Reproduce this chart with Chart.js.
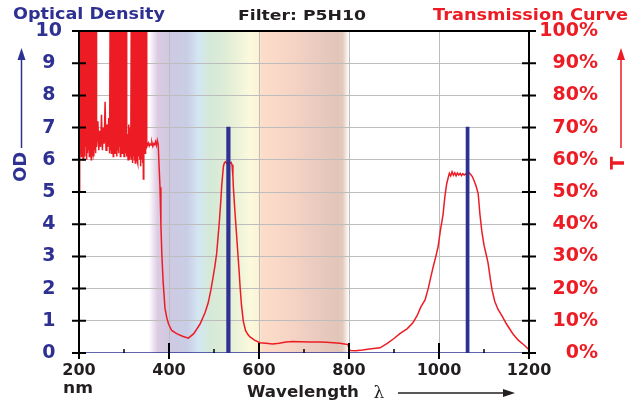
<!DOCTYPE html>
<html>
<head>
<meta charset="utf-8">
<script src="https://cdn.jsdelivr.net/npm/chart.js@4.4.0/dist/chart.umd.min.js"></script>
<style>
body { margin: 0; background: #fff; }
canvas { display: block; }
</style>
</head>
<body>
<canvas id="myChart" width="642" height="402"></canvas>
<script>
// transmission curve, wavelength (nm) and T (%)
var transWl = [
  200, 201, 202, 203, 204, 205, 206, 207, 208, 209, 210, 211, 212, 213, 214, 215, 216, 217, 218, 219,
  220, 221, 222, 223, 224, 225, 226, 227, 228, 229, 230, 231, 232, 233, 234, 235, 236, 237, 238, 239,
  240, 242, 244, 246, 248, 250, 252, 254, 256, 258, 260, 262, 264, 266, 268,
  269, 270, 271, 272, 273, 274, 275, 276, 277, 278, 279, 280, 281, 282, 283, 284, 285, 286, 287, 288,
  289, 290, 291, 292, 293, 294, 295, 296, 297, 298, 299, 300, 301, 302, 303, 304, 305, 306,
  307, 308, 309, 310, 311, 312, 313, 314, 315,
  316, 317, 318, 319, 320, 321, 322, 323, 324, 325, 326, 327, 328, 329, 330, 331, 332, 333, 334, 335,
  336, 337, 338, 339, 340, 341, 342, 343, 344, 345, 346, 347, 348, 349, 350, 351,
  352, 354, 356, 358, 360, 362, 364, 366, 368, 370, 372, 374, 376, 378, 380, 382, 384, 387, 391, 395,
  399, 406, 417, 430, 443, 455, 469, 480, 487, 493, 498, 502, 506, 509, 512, 515, 517, 519, 521, 523,
  526, 529, 532, 535, 538, 540, 542, 543, 546, 548, 551, 553, 556, 558, 561, 565, 570, 575, 580, 590,
  602, 615, 630, 645, 660, 675, 690, 713, 735, 750, 765, 780, 790, 798, 800, 803, 815, 830, 850, 869,
  885, 900, 913, 929, 942, 951, 960, 969, 976, 982, 987, 993, 998, 1003, 1009, 1013, 1017, 1020, 1023, 1026,
  1029, 1032, 1035, 1038, 1041, 1044, 1047, 1050, 1053, 1056, 1059, 1062, 1066, 1070, 1074, 1078, 1082, 1087, 1091, 1095,
  1100, 1105, 1109, 1114, 1118, 1124, 1131, 1140, 1150, 1164, 1176, 1189, 1200
];
var transPct = [
  65, 50, 100, 62, 100, 61, 100, 63, 100, 60, 100, 62, 100, 61, 100, 64, 100, 60, 100, 62,
  100, 63, 100, 61, 100, 62, 100, 60, 100, 63, 100, 62, 100, 61, 100, 63, 100, 62, 100, 64,
  66, 72, 63, 69, 64, 74, 63, 70, 65, 78, 63, 71, 64, 73, 62,
  100, 63, 100, 62, 100, 64, 100, 61, 100, 63, 100, 62, 100, 64, 100, 61, 100, 63, 100, 62,
  100, 64, 100, 61, 100, 63, 100, 62, 100, 64, 100, 61, 100, 63, 100, 62, 100, 61,
  62, 68, 60, 71, 61, 66, 60, 70, 61,
  100, 60, 100, 59, 100, 61, 100, 60, 100, 59, 100, 61, 100, 60, 100, 59, 100, 61, 100, 60,
  100, 58, 100, 60, 100, 59, 100, 54, 100, 63, 100, 62, 100, 64, 100, 64,
  64.5, 65.2, 64.3, 65.0, 64.6, 65.4, 64.2, 65.0, 64.7, 65.6, 64.5, 66.0, 64.8, 58, 51.5, 40, 31, 22, 14, 11,
  9, 7, 6, 5.2, 4.6, 6, 9, 12.5, 15.5, 19.5, 23.6, 27, 31, 36, 41, 47, 51.6, 55, 58, 59,
  59.4, 58.8, 59.3, 58.9, 59.2, 58.5, 55, 51.6, 45, 41, 35, 31, 25, 20.5, 15, 10, 7, 5.8, 5, 4,
  3.2, 3.0, 2.8, 3.0, 3.4, 3.6, 3.5, 3.4, 3.4, 3.3, 3.2, 3.0, 2.8, 2.6, 1.2, 0.8, 0.7, 0.9, 1.3, 1.6,
  3.0, 4.5, 6.0, 7.5, 9.4, 11.5, 14.4, 16.5, 20, 23.7, 26.7, 30, 33, 38, 43, 48.5, 52.5, 54.2, 55.8, 55.0,
  56.3, 55.2, 56.0, 55.0, 55.9, 55.3, 55.8, 55.1, 55.7, 55.3, 55.6, 55.2, 56.1, 55.5, 54.8, 53.5, 52, 49.6, 43, 38,
  33.5, 30.5, 28, 23, 19.5, 16, 13.6, 11.5, 9, 6, 4, 2.5, 1.0
];

// laser lines, optical density
var odWl = [200, 529, 529, 535, 535, 1061, 1061, 1066, 1066, 1200];
var odVals = [0, 0, 7, 7, 0, 0, 7, 7, 0, 0];

var headTexts = ['Optical Density', 'Filter: P5H10', 'Transmission Curve'];

var NAVY = '#2e3192', RED = '#ed1c24', INK = '#231f20', GRID = '#bdbdbd';
var FAM = '"DejaVu Sans", sans-serif';

function pairs(xs, ys) {
  var out = [];
  for (var i = 0; i < xs.length; i++) out.push({x: xs[i], y: ys[i]});
  return out;
}

// text squeezed/stretched to the width it has in the picture
function wideText(ctx, text, x, y, size, color, width) {
  ctx.save();
  ctx.font = 'bold ' + size + 'px ' + FAM;
  var w = ctx.measureText(text).width;
  ctx.translate(x, y);
  ctx.scale(width / w, 1);
  ctx.fillStyle = color;
  ctx.textAlign = 'left';
  ctx.textBaseline = 'alphabetic';
  ctx.fillText(text, 0, 0);
  ctx.restore();
}

function upText(ctx, text, cx, cy, size, color) {
  ctx.save();
  ctx.translate(cx, cy);
  ctx.rotate(-Math.PI / 2);
  ctx.font = 'bold ' + size + 'px ' + FAM;
  ctx.fillStyle = color;
  ctx.textAlign = 'center';
  ctx.textBaseline = 'middle';
  ctx.fillText(text, 0, 0);
  ctx.restore();
}

function arrow(ctx, x0, y0, x1, y1, color) {
  var a = Math.atan2(y1 - y0, x1 - x0), L = 12, H = 4;
  ctx.save();
  ctx.strokeStyle = color; ctx.fillStyle = color; ctx.lineWidth = 1.5;
  ctx.beginPath();
  ctx.moveTo(x0, y0);
  ctx.lineTo(x1 - L * Math.cos(a), y1 - L * Math.sin(a));
  ctx.stroke();
  ctx.beginPath();
  ctx.moveTo(x1, y1);
  ctx.lineTo(x1 - L * Math.cos(a) - H * Math.sin(a), y1 - L * Math.sin(a) + H * Math.cos(a));
  ctx.lineTo(x1 - L * Math.cos(a) + H * Math.sin(a), y1 - L * Math.sin(a) - H * Math.cos(a));
  ctx.closePath();
  ctx.fill();
  ctx.restore();
}

// visible spectrum band behind the grid
var spectrumStops = [
  [355, '#ffffff'], [375, '#dccae2'], [400, '#cfc9e2'], [440, '#c9cde6'], [465, '#d3e6f3'],
  [490, '#d5e9d9'], [520, '#dcecd6'], [555, '#eef3d8'], [580, '#fbf9dc'], [598, '#fbf3d6'],
  [606, '#fcdcc8'], [660, '#f8d6c6'], [720, '#ecccc0'], [775, '#e1c5b8'], [786, '#e3cabe'], [800, '#ffffff']
];

var spectrumPlugin = {
  id: 'spectrum',
  beforeDraw: function(chart) {
    var ctx = chart.ctx, a = chart.chartArea, xs = chart.scales.x;
    var lo = spectrumStops[0][0], hi = spectrumStops[spectrumStops.length - 1][0];
    var x0 = xs.getPixelForValue(lo), x1 = xs.getPixelForValue(hi);
    var g = ctx.createLinearGradient(x0, 0, x1, 0);
    spectrumStops.forEach(function(s) { g.addColorStop((s[0] - lo) / (hi - lo), s[1]); });
    ctx.save();
    ctx.fillStyle = g;
    ctx.fillRect(x0, a.top, x1 - x0, a.bottom - a.top);
    ctx.restore();
  }
};

var framePlugin = {
  id: 'frame',
  afterDraw: function(chart) {
    var ctx = chart.ctx, a = chart.chartArea;
    var xs = chart.scales.x, ys = chart.scales.y, y2 = chart.scales.y2;
    ctx.save();
    ctx.strokeStyle = '#000';
    ctx.lineWidth = 2;
    ctx.beginPath();
    ctx.moveTo(a.left, a.top); ctx.lineTo(a.right, a.top);
    ctx.moveTo(a.left, a.top); ctx.lineTo(a.left, a.bottom + 6);
    ctx.moveTo(a.right, a.top); ctx.lineTo(a.right, a.bottom + 6);
    ys.ticks.forEach(function(t) {
      var p = ys.getPixelForValue(t.value);
      ctx.moveTo(a.left - 7, p); ctx.lineTo(a.left + 7, p);
    });
    y2.ticks.forEach(function(t) {
      var p = y2.getPixelForValue(t.value);
      ctx.moveTo(a.right - 7, p); ctx.lineTo(a.right + 7, p);
    });
    xs.ticks.forEach(function(t) {
      if (t.value % 200 === 0) {
        var p = xs.getPixelForValue(t.value);
        ctx.moveTo(p, a.bottom - 10); ctx.lineTo(p, a.bottom + 6);
      }
    });
    ctx.stroke();
    ctx.lineWidth = 1.5;
    ctx.beginPath();
    xs.ticks.forEach(function(t) {
      if (t.value % 200 !== 0) {
        var p = xs.getPixelForValue(t.value);
        ctx.moveTo(p, a.bottom - 4); ctx.lineTo(p, a.bottom);
      }
    });
    ctx.stroke();
    ctx.restore();

    // headings and axis titles
    wideText(ctx, headTexts[0], 13, 19, 16, NAVY, 152);
    wideText(ctx, headTexts[1], 238, 20, 14, INK, 128);
    wideText(ctx, headTexts[2], 433, 20, 16, RED, 195);
    upText(ctx, 'OD', 21, 167, 18, NAVY);
    arrow(ctx, 21.5, 148, 21.5, 48, NAVY);
    upText(ctx, 'T', 619, 163, 19, RED);
    arrow(ctx, 621, 148, 621, 48, RED);
    wideText(ctx, 'nm', 63, 393, 15, INK, 30);
    wideText(ctx, 'Wavelength', 247, 397, 15, INK, 112);
    ctx.save();
    ctx.font = '17px "DejaVu Serif", serif';
    ctx.fillStyle = INK;
    ctx.textAlign = 'center';
    ctx.fillText('\u03bb', 379, 398);
    ctx.restore();
    arrow(ctx, 398, 393, 515, 393, INK);
  }
};

var ctx = document.getElementById('myChart');
var chart = new Chart(ctx, {
  type: 'line',
  data: {
    datasets: [{
      label: 'Optical Density',
      data: pairs(odWl, odVals),
      yAxisID: 'y',
      borderColor: NAVY,
      backgroundColor: NAVY,
      borderWidth: 1.5,
      fill: 'origin',
      pointRadius: 0,
      tension: 0
    }, {
      label: 'Transmission',
      data: pairs(transWl, transPct),
      yAxisID: 'y2',
      borderColor: RED,
      borderWidth: 1.5,
      fill: false,
      pointRadius: 0,
      tension: 0
    }]
  },
  options: {
    responsive: false,
    animation: false,
    layout: { padding: { top: 31, right: 44, left: 0, bottom: 0 } },
    plugins: { legend: { display: false }, tooltip: { enabled: false } },
    scales: {
      x: {
        type: 'linear', min: 200, max: 1200,
        afterFit: function(s) { s.height = 49; },
        border: { display: false },
        grid: {
          drawTicks: false,
          color: function(c) {
            var v = c.tick ? c.tick.value : 0;
            return (v % 200 === 0 && v > 200 && v < 1200) ? GRID : 'rgba(0,0,0,0)';
          }
        },
        ticks: {
          stepSize: 100, autoSkip: false, maxRotation: 0, padding: 8,
          color: INK, font: { family: FAM, size: 16, weight: 'bold' },
          callback: function(v) { return v % 200 === 0 ? v : ''; }
        }
      },
      y: {
        position: 'left', min: 0, max: 10,
        afterFit: function(s) { s.width = 79; },
        border: { display: false },
        grid: {
          drawTicks: false,
          color: function(c) {
            var v = c.tick ? c.tick.value : 0;
            return (v > 0 && v < 10) ? GRID : 'rgba(0,0,0,0)';
          }
        },
        ticks: {
          stepSize: 1, padding: 17, crossAlign: 'center',
          color: NAVY, font: { family: FAM, size: 19, weight: 'bold' }
        }
      },
      y2: {
        position: 'right', min: 0, max: 100,
        afterFit: function(s) { s.width = 69; },
        border: { display: false },
        grid: { display: false, drawTicks: false },
        ticks: {
          stepSize: 10, crossAlign: 'far',
          color: RED, font: { family: FAM, size: 19, weight: 'bold' },
          callback: function(v) { return v + '%'; }
        }
      }
    }
  },
  plugins: [spectrumPlugin, framePlugin]
});
</script>
</body>
</html>
